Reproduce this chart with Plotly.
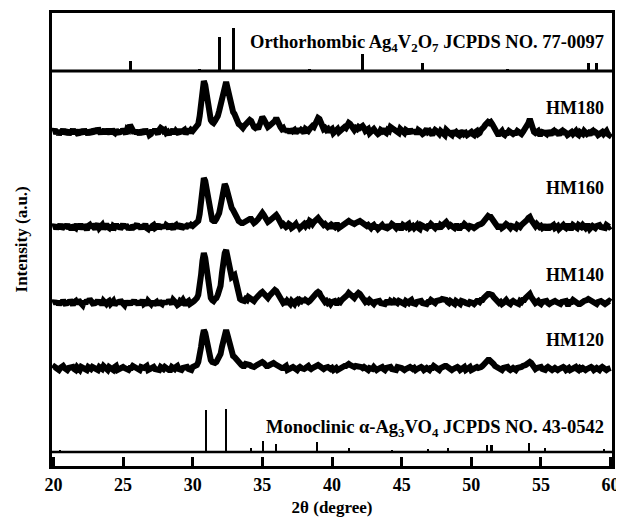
import numpy as np
import plotly.graph_objects as go

# 2-theta grid (degrees), 0.1 deg step
two_theta = np.round(np.arange(20.0, 60.0001, 0.1), 2)

# Intensities (a.u.) above each pattern's own baseline
# (one line = 2 degrees, 20 samples)
hm180 = [
    0, 3, -2, 2, -3, 1, -1, 3, -2, 0, 2, -3, 1, -1, 3, -2, 2, -1, -3, 2,
    0, -2, 3, -1, 1, -3, 2, 0, -2, 3, 1, -1, 4, 0, -2, 2, -1, 3, -2, 1,
    1, -2, 3, 0, -1, 2, 0, -2, 2, -1, 3, 0, -2, 3, 2, 7, 5, 1, -1, 2,
    -2, 1, -3, 2, 0, -2, 3, -1, 1, -3, -2, 2, -1, 3, 0, -2, 2, 4, 3, 1,
    2, -1, 0, -3, 2, -1, 3, -2, 1, 0, -2, 3, -1, 1, 2, -2, 0, 3, -1, 2,
    1, 3, 4, 5, 8, 16, 28, 42, 51, 47, 38, 27, 18, 12, 10, 9, 11, 13, 16, 21,
    27, 35, 42, 49, 50, 44, 36, 28, 24, 20, 18, 14, 10, 8, 7, 5, 4, 6, 8, 9,
    10, 12, 11, 7, 5, 4, 5, 3, 9, 12, 15, 13, 11, 7, 5, 6, 7, 9, 10, 11,
    14, 12, 8, 5, 3, 4, 1, 3, 0, 2, -1, 3, 1, 2, -1, 1, 3, 0, 2, 1,
    -1, 3, 2, 1, 3, 4, 6, 5, 8, 10, 14, 13, 9, 6, 3, 4, 2, 3, 0, 2,
    3, -1, 1, 2, 3, 0, 1, 3, 4, 5, 4, 6, 9, 8, 6, 3, 2, 4, 3, 5,
    4, 5, 6, 4, 1, 2, 3, -1, 0, 2, 3, 1, 0, -2, -1, 2, 1, 3, 0, -1,
    2, 1, 5, 4, 4, 2, 1, 0, -1, 3, 2, 0, -1, 2, 1, -2, 3, 0, 2, -1,
    1, -2, 2, 1, 0, -2, -1, 2, 3, 0, 1, -1, -3, 0, 2, 1, -1, -2, 1, 0,
    -1, -3, 2, 0, 0, -2, -3, 1, -1, 0, -2, -3, 1, -1, 1, -2, -1, -3, -2, 0,
    0, -2, -3, 0, 1, -2, -1, 2, 3, 5, 7, 9, 10, 9, 10, 8, 5, 3, 0, -2,
    -2, 0, 1, -2, -3, -1, -1, 1, 0, -2, -2, -1, -1, 1, 0, -2, -2, 0, 2, 3,
    5, 9, 13, 8, 3, 0, -1, 1, 1, -2, -2, 0, 0, -1, -2, 1, -1, -3, 0, 1,
    -2, 0, -1, -3, 0, 1, -2, 0, -1, -3, -2, 0, 0, -2, -1, 1, -2, -3, 0, -1,
    -2, 1, 0, -2, -1, -3, 0, 1, -2, 0, -1, -3, -2, 0, 0, -2, -1, 1, -2, -3,
    -1,
]
hm160 = [
    0, 2, -2, 1, -1, 3, -2, 0, 2, -1, 3, -2, 1, -3, 2, 0, -1, 3, -2, 1,
    1, -2, 2, 0, -3, 1, 2, -1, 3, 0, -2, 1, 3, -1, 0, 2, -2, 1, 3, 0,
    -1, 2, -3, 1, 0, 3, -1, 2, -2, 0, 3, -1, 2, 0, -2, 1, -3, 2, 0, 1,
    3, -1, 1, -2, 2, 0, 3, -1, -2, 1, -3, 1, 2, -1, 0, 3, -2, 1, -1, 2,
    -1, 2, 1, -2, 3, 0, -2, 1, 2, -1, 1, 3, -2, 0, 2, -1, 1, 3, 0, 2,
    1, 2, 3, 4, 6, 13, 25, 40, 49, 46, 38, 28, 17, 11, 7, 6, 6, 8, 10, 14,
    21, 32, 42, 43, 40, 34, 28, 23, 19, 17, 15, 12, 9, 6, 4, 4, 4, 5, 6, 7,
    7, 8, 8, 6, 4, 5, 6, 8, 10, 12, 14, 12, 9, 7, 5, 6, 7, 8, 10, 11,
    12, 10, 7, 4, 2, 3, 2, 0, 1, 3, 2, -1, 0, 2, 3, 0, 2, -1, 1, 2,
    3, 1, 3, 2, 6, 5, 3, 5, 7, 8, 9, 7, 5, 3, 2, 3, 2, 0, 1, -1,
    2, 1, 0, 2, 2, -1, 0, 2, 2, 3, 4, 5, 6, 5, 4, 3, 3, 4, 5, 5,
    6, 5, 4, 3, 2, 1, 2, -1, -1, 1, 2, 0, 0, -2, -1, 1, 2, 0, 0, -1,
    2, 0, 1, 3, 2, -1, -1, 1, 1, -1, -1, 2, 1, 0, 2, 3, -1, 1, 1, -1,
    0, 2, -1, -2, 2, 1, 1, -1, -1, 1, 1, 3, 2, 0, -1, 1, 1, -2, 2, 1,
    3, 4, 5, 3, 1, 2, 1, 0, -1, 1, 1, -1, -1, 1, 1, 3, 2, 0, -1, 1,
    1, 0, -1, 1, 1, 2, 2, 3, 4, 6, 8, 10, 11, 10, 10, 8, 5, 3, 2, 0,
    0, 2, -1, 0, 1, 3, 2, 0, -1, 1, 1, 0, -1, 2, 1, 0, 2, 3, 4, 6,
    7, 9, 10, 7, 4, 2, 1, 3, 2, 0, 1, -1, 0, 2, -1, -1, 2, 0, 1, 2,
    -1, 1, 1, -2, -1, 1, 2, 0, -1, 1, 1, -1, -1, 2, 1, -1, -1, 2, 1, 0,
    2, 0, -1, 1, 1, -2, -1, 1, 0, -1, 1, 2, 2, 0, 0, -1, -1, 2, 1, 0,
    1,
]
hm140 = [
    0, 2, -1, 2, -2, 1, -1, 3, 0, -2, 2, -1, 3, 0, -2, 1, 2, -1, 3, 1,
    0, -2, 2, -1, 3, 1, 4, 2, 0, -2, 2, 0, 3, -1, 1, -2, 2, 0, -1, 1,
    2, -1, 0, 2, -2, 1, 2, -1, 3, 1, 0, -2, 2, -1, 1, -2, 2, 0, 3, -1,
    1, -2, 2, 0, 3, -1, 0, -2, 2, 1, -1, 2, -2, 0, 1, -2, 2, 0, -1, 2,
    -1, 2, 0, 3, 1, -1, 3, 2, 0, -2, -1, 2, 1, 3, 0, -2, 1, 2, -1, 1,
    1, 2, 3, 5, 8, 15, 28, 42, 50, 45, 33, 20, 11, 5, 3, 2, 4, 5, 8, 12,
    17, 30, 42, 50, 53, 46, 35, 29, 26, 27, 28, 22, 13, 8, 4, 3, 3, 2, 4, 3,
    6, 5, 4, 3, 2, 4, 6, 7, 9, 10, 11, 9, 7, 5, 5, 7, 9, 11, 12, 13,
    12, 9, 6, 3, 1, 0, 1, -1, 2, 0, -1, 2, 1, -1, 2, 3, 1, 3, 2, 4,
    1, 3, 2, 1, 2, 4, 5, 6, 8, 10, 11, 10, 7, 4, 2, 1, 2, 0, 1, -1,
    1, 2, 2, 0, 0, 2, 1, 3, 4, 5, 6, 8, 10, 9, 7, 6, 5, 7, 9, 10,
    9, 7, 5, 3, 1, 2, 1, 3, 2, 0, -1, 1, 1, 2, 2, 0, 0, -1, -1, 1,
    1, -1, 2, 1, -1, 2, 1, 0, 2, 1, 0, -1, -1, 2, 1, 0, 2, 3, 0, -1,
    -1, 1, 1, 2, 2, 0, 0, -1, -1, 1, 1, 3, 2, 0, 0, 2, 2, 3, 3, 4,
    4, 3, 3, 1, 0, 2, 1, -1, -1, 2, 1, 0, -1, 2, 2, 1, 0, -1, -1, 1,
    1, 0, -1, 1, 2, 2, 1, 3, 3, 5, 7, 8, 9, 9, 9, 8, 6, 4, 2, 1,
    0, 1, -1, 0, 2, 3, 1, 0, -1, 1, 2, 1, 0, -1, -1, 2, 1, 3, 3, 5,
    6, 8, 9, 6, 4, 2, 0, 1, 2, 0, -1, 1, 1, 2, 2, 0, -1, 0, 1, 2,
    2, 1, 0, -1, -1, 1, 1, 2, 2, -1, -1, 1, 1, 3, 2, 0, 0, -1, -1, 1,
    1, 2, 2, 3, 4, 3, 2, 1, 0, 0, -1, 1, 2, 2, 1, 0, -1, 0, 1, 2,
    1,
]
hm120 = [
    0, 2, 1, -1, -1, 1, 2, 3, 1, -1, -1, 1, 1, 2, 2, 0, -1, 2, 1, -1,
    2, 1, 0, -1, -1, 2, 1, 0, 2, 1, 0, -1, -1, 2, 1, 0, 3, 2, 0, -1,
    2, 1, 0, -1, 2, 3, -1, 0, 1, 2, 2, 1, 0, -1, -1, 1, 1, 3, 2, 1,
    1, -1, -1, 2, 1, 1, 2, 3, -1, 0, 1, 2, 2, 0, 0, -1, -1, 2, 1, 0,
    2, 0, 0, -1, -1, 2, 1, 0, 2, 3, 0, -1, -1, 1, 1, 2, 2, 0, 0, -1,
    2, 3, 3, 4, 7, 13, 22, 32, 39, 36, 29, 20, 13, 9, 7, 6, 6, 7, 9, 12,
    15, 22, 29, 36, 39, 34, 27, 20, 15, 13, 12, 10, 8, 6, 4, 4, 3, 3, 5, 5,
    5, 4, 3, 2, 2, 3, 4, 5, 5, 6, 7, 6, 4, 3, 3, 4, 4, 5, 6, 5,
    4, 3, 3, 2, 1, 1, 2, 3, -1, 0, 1, 2, 2, 1, 0, -1, 1, 2, 1, 0,
    0, 1, 2, 3, 1, 0, 1, 2, 2, 3, 4, 3, 2, 1, 0, 1, 2, 2, 1, 0,
    1, -1, 0, 1, -1, 0, 1, 2, 2, 3, 3, 4, 5, 4, 3, 2, 2, 3, 3, 2,
    3, 2, 1, 2, 1, 0, -1, 1, 1, 0, 2, 1, -1, 0, 1, 2, 2, 0, -1, 1,
    1, 2, 2, 0, 0, -1, -1, 2, 2, 1, 1, 0, -1, 0, 1, 2, 2, 1, 0, 1,
    -1, 0, 1, 2, 2, 1, -1, 0, 1, 0, -1, 1, 1, 3, 2, 1, 0, -1, 1, 2,
    2, 3, 3, 2, 0, -1, -1, 0, 1, 2, 2, 1, -1, 0, 1, 2, -1, 0, 1, 2,
    -1, 0, 1, 2, 2, 1, 1, 2, 3, 5, 7, 8, 9, 9, 8, 7, 5, 3, 2, 1,
    0, -1, -1, 1, 1, 2, 2, 0, -1, 0, 1, 0, -1, 1, 1, 2, 2, 3, 3, 4,
    5, 6, 7, 6, 4, 2, 0, 1, 1, 2, 2, 0, 0, -1, 1, 2, 1, 0, -1, 0,
    1, 0, -1, 0, 1, 2, 2, 1, -1, 0, 1, -1, 0, 1, 2, 2, 0, -1, 1, 0,
    1, 0, -1, 0, 1, 2, 2, 1, -1, 0, 1, 0, -1, 1, 2, 1, 0, -1, 0, 1,
    1,
]
sample_names = ["HM180", "HM160", "HM140", "HM120"]
sample_offsets = [334, 239, 163, 97]

# Reference patterns (stick positions in 2theta, relative intensities)
ortho_pos = [25.55, 30.5, 31.9, 32.9, 38.4, 42.2, 46.5, 52.6, 58.4, 59.0]
ortho_int = [10, 2, 34, 43, 2, 17, 8, 2, 8, 8]
ortho_base = 395

mono_pos = [20.5, 30.94, 32.37, 34.17, 35.07, 35.98, 38.95, 41.2, 44.3, 46.9,
            48.3, 51.15, 51.45, 54.15, 55.3, 59.5]
mono_int = [2, 42, 43, 4, 11, 8, 10, 4, 1.5, 3, 4, 7, 7, 9, 4, 3]
mono_base = 14

x_ticks = [20, 25, 30, 35, 40, 45, 50, 55, 60]

for arr in (hm180, hm160, hm140, hm120):
    assert len(arr) == len(two_theta), len(arr)

FONT = "Liberation Serif"
fig = go.Figure()

for name, vals, off in zip(sample_names, [hm180, hm160, hm140, hm120], sample_offsets):
    fig.add_trace(go.Scatter(
        x=two_theta, y=np.array(vals, dtype=float) + off, mode="lines",
        line=dict(color="black", width=6), name=name, showlegend=False,
        hoverinfo="skip",
    ))

fig.add_trace(go.Bar(x=ortho_pos, y=ortho_int, base=ortho_base, width=0.22,
                     marker=dict(color="black", line=dict(width=0)),
                     showlegend=False))
fig.add_trace(go.Bar(x=mono_pos, y=mono_int, base=mono_base, width=0.16,
                     marker=dict(color="black", line=dict(width=0)),
                     showlegend=False))

# baselines of the reference patterns
fig.add_shape(type="line", xref="paper", x0=0, x1=1, yref="y", y0=ortho_base, y1=ortho_base,
              line=dict(color="black", width=3))
fig.add_shape(type="line", xref="paper", x0=0, x1=1, yref="y", y0=mono_base, y1=mono_base,
              line=dict(color="black", width=2.5))

ann_font = dict(family=FONT, size=18, color="black")
long_font = dict(family=FONT, size=18.5, color="black")
fig.add_annotation(x=59.65, y=423, xref="x", yref="y", xanchor="right", yanchor="middle",
                   text="<b>Orthorhombic Ag<sub>4</sub>V<sub>2</sub>O<sub>7</sub> JCPDS NO. 77-0097</b>",
                   showarrow=False, font=long_font)
fig.add_annotation(x=59.65, y=38, xref="x", yref="y", xanchor="right", yanchor="middle",
                   text="<b>Monoclinic α-Ag<sub>3</sub>VO<sub>4</sub> JCPDS NO. 43-0542</b>",
                   showarrow=False, font=long_font)
for name, ly in zip(sample_names, [358, 278, 191, 126]):
    fig.add_annotation(x=59.65, y=ly, xref="x", yref="y", xanchor="right", yanchor="middle",
                       text="<b>" + name + "</b>", showarrow=False, font=ann_font)

fig.add_annotation(x=-0.0536, y=0.5, xref="paper", yref="paper", textangle=-90,
                   xanchor="center", yanchor="middle",
                   text="<b>Intensity (a.u.)</b>", showarrow=False,
                   font=dict(family=FONT, size=17, color="black"))

# page body adds an 8px offset, so the figure is 616x516 inside a 624x524 window
fig.update_layout(
    width=616, height=516,
    margin=dict(l=44, r=12, t=5, b=58, autoexpand=False),
    paper_bgcolor="white", plot_bgcolor="white",
    barmode="overlay", bargap=0,
    showlegend=False,
    xaxis=dict(range=[19.9, 60.1], tickvals=x_ticks,
               ticktext=["<b>%d</b>" % t for t in x_ticks],
               ticks="inside", ticklen=9, automargin=False,
               tickwidth=2.5, tickcolor="black", showline=True, linewidth=3,
               linecolor="black", mirror=True, showgrid=False, zeroline=False,
               tickfont=dict(family=FONT, size=18, color="black"),
               title=dict(text="<b>2θ (degree)</b>", standoff=8,
                          font=dict(family=FONT, size=17, color="black"))),
    yaxis=dict(range=[0, 453], showticklabels=False, ticks="", showline=True,
               automargin=False,
               linewidth=3, linecolor="black", mirror=True, showgrid=False,
               zeroline=False),
)

fig.write_html("out.html")
